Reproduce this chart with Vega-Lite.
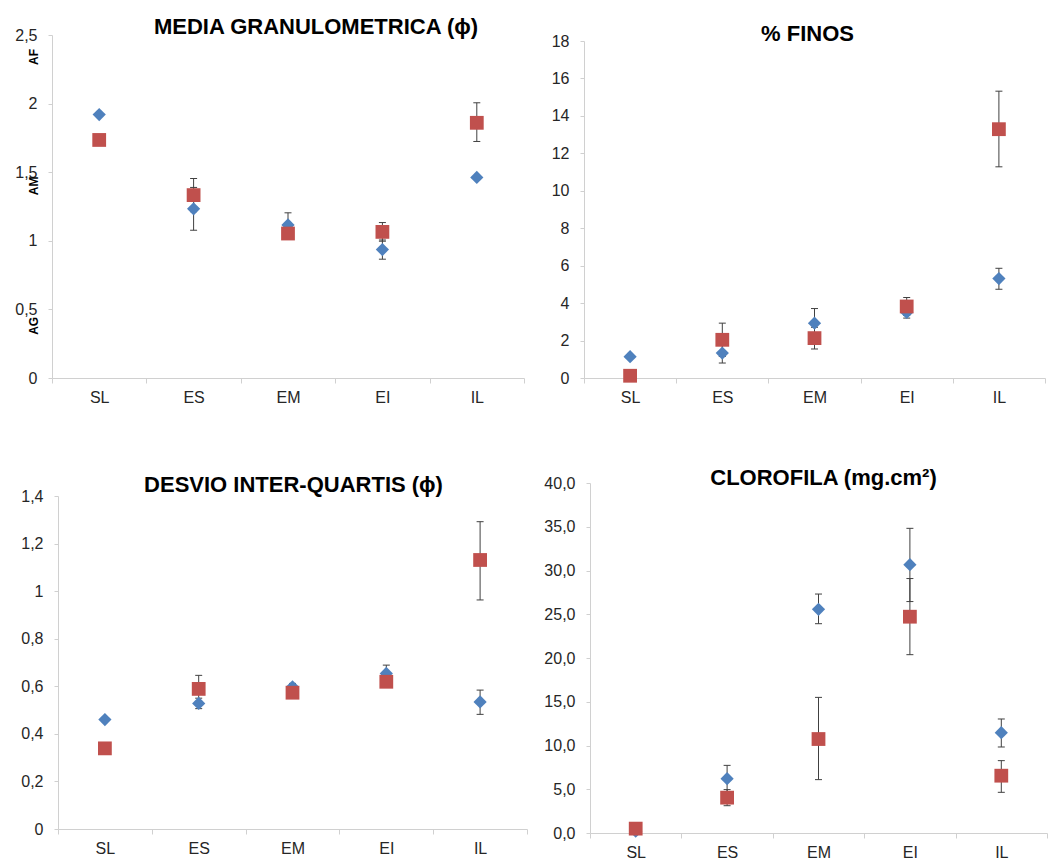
{
  "$schema": "https://vega.github.io/schema/vega-lite/v6.json",
  "background": "white",
  "padding": {"left": 14, "top": 16, "right": 2, "bottom": 0},
  "config": {
    "font": "Liberation Sans",
    "view": {"stroke": null},
    "axis": {"labelFont": "Liberation Sans", "labelFontSize": 16, "labelColor": "#262626", "domainColor": "#D0D0D0", "tickColor": "#D0D0D0", "grid": false, "labelOverlap": false},
    "axisY": {"tickSize": 4, "labelPadding": 11},
    "axisX": {"tickSize": 5, "labelPadding": 6, "labelAngle": 0, "tickBand": "extent"},
    "title": {"font": "Liberation Sans", "fontSize": 22, "fontWeight": "bold", "color": "#000000", "frame": "group", "offset": 0, "baseline": "alphabetic", "anchor": "middle"}
  },
  "datasets": {
    "media": [
      {"site": "SL", "series": "A", "value": 1.92, "lo": 1.92, "hi": 1.92},
      {"site": "SL", "series": "B", "value": 1.735, "lo": 1.735, "hi": 1.735},
      {"site": "ES", "series": "A", "value": 1.233, "lo": 1.077, "hi": 1.389},
      {"site": "ES", "series": "B", "value": 1.333, "lo": 1.212, "hi": 1.454},
      {"site": "EM", "series": "A", "value": 1.116, "lo": 1.028, "hi": 1.204},
      {"site": "EM", "series": "B", "value": 1.053, "lo": 1.02, "hi": 1.086},
      {"site": "EI", "series": "A", "value": 0.936, "lo": 0.866, "hi": 1.006},
      {"site": "EI", "series": "B", "value": 1.065, "lo": 0.997, "hi": 1.133},
      {"site": "IL", "series": "A", "value": 1.462, "lo": 1.45, "hi": 1.474},
      {"site": "IL", "series": "B", "value": 1.86, "lo": 1.724, "hi": 2.006}
    ],
    "mediaLabels": [
      {"site": "SL", "label": "AF", "v": 2.34},
      {"site": "SL", "label": "AM", "v": 1.4},
      {"site": "SL", "label": "AG", "v": 0.38}
    ],
    "finos": [
      {"site": "SL", "series": "A", "value": 1.14, "lo": 1.1, "hi": 1.18},
      {"site": "SL", "series": "B", "value": 0.12, "lo": 0.08, "hi": 0.16},
      {"site": "ES", "series": "A", "value": 1.33, "lo": 0.8, "hi": 1.86},
      {"site": "ES", "series": "B", "value": 2.04, "lo": 1.15, "hi": 2.93},
      {"site": "EM", "series": "A", "value": 2.93, "lo": 2.15, "hi": 3.71},
      {"site": "EM", "series": "B", "value": 2.13, "lo": 1.55, "hi": 2.71},
      {"site": "EI", "series": "A", "value": 3.5, "lo": 3.2, "hi": 3.8},
      {"site": "EI", "series": "B", "value": 3.82, "lo": 3.34, "hi": 4.3},
      {"site": "IL", "series": "A", "value": 5.31, "lo": 4.74, "hi": 5.86},
      {"site": "IL", "series": "B", "value": 13.29, "lo": 11.28, "hi": 15.32}
    ],
    "desvio": [
      {"site": "SL", "series": "A", "value": 0.46, "lo": 0.455, "hi": 0.465},
      {"site": "SL", "series": "B", "value": 0.339, "lo": 0.334, "hi": 0.344},
      {"site": "ES", "series": "A", "value": 0.528, "lo": 0.506, "hi": 0.55},
      {"site": "ES", "series": "B", "value": 0.589, "lo": 0.532, "hi": 0.646},
      {"site": "EM", "series": "A", "value": 0.598, "lo": 0.585, "hi": 0.612},
      {"site": "EM", "series": "B", "value": 0.573, "lo": 0.565, "hi": 0.581},
      {"site": "EI", "series": "A", "value": 0.654, "lo": 0.619, "hi": 0.689},
      {"site": "EI", "series": "B", "value": 0.619, "lo": 0.61, "hi": 0.628},
      {"site": "IL", "series": "A", "value": 0.534, "lo": 0.482, "hi": 0.584},
      {"site": "IL", "series": "B", "value": 1.131, "lo": 0.963, "hi": 1.292}
    ],
    "clorofila": [
      {"site": "SL", "series": "A", "value": 0.2, "lo": 0.1, "hi": 0.3},
      {"site": "SL", "series": "B", "value": 0.5, "lo": 0.3, "hi": 0.7},
      {"site": "ES", "series": "A", "value": 6.21, "lo": 4.69, "hi": 7.73},
      {"site": "ES", "series": "B", "value": 4.04, "lo": 3.12, "hi": 4.96},
      {"site": "EM", "series": "A", "value": 25.56, "lo": 23.92, "hi": 27.31},
      {"site": "EM", "series": "B", "value": 10.74, "lo": 6.1, "hi": 15.5},
      {"site": "EI", "series": "A", "value": 30.67, "lo": 26.45, "hi": 34.82},
      {"site": "EI", "series": "B", "value": 24.72, "lo": 20.38, "hi": 29.08},
      {"site": "IL", "series": "A", "value": 11.47, "lo": 9.83, "hi": 13.03},
      {"site": "IL", "series": "B", "value": 6.55, "lo": 4.65, "hi": 8.27}
    ]
  },
  "columns": 2,
  "bounds": "flush",
  "spacing": {"row": 105, "column": 57},
  "concat": [
    {
      "width": 472, "height": 343,
      "title": {"text": "MEDIA GRANULOMETRICA (ϕ)", "dx": 28, "dy": 16},
      "data": {"name": "media"},
      "encoding": {"x": {"field": "site", "type": "nominal", "sort": ["SL", "ES", "EM", "EI", "IL"], "title": null, "scale": {"type": "band", "paddingInner": 0, "paddingOuter": 0}}},
      "layer": [
        {"mark": {"type": "rule", "color": "#404040", "strokeWidth": 1},
         "encoding": {"y": {"field": "lo", "type": "quantitative", "title": null, "scale": {"domain": [0, 2.5], "nice": false, "zero": true},
           "axis": {"values": [0, 0.5, 1, 1.5, 2, 2.5], "labelExpr": "replace(format(datum.value, '~g'), '.', ',')"}},
           "y2": {"field": "hi"}}},
        {"mark": {"type": "tick", "color": "#404040", "thickness": 1, "size": 7, "opacity": 1},
         "encoding": {"y": {"field": "lo", "type": "quantitative", "title": null}}},
        {"mark": {"type": "tick", "color": "#404040", "thickness": 1, "size": 7, "opacity": 1},
         "encoding": {"y": {"field": "hi", "type": "quantitative", "title": null}}},
        {"transform": [{"filter": "datum.series == 'A'"}],
         "mark": {"type": "point", "shape": "diamond", "filled": true, "color": "#4F81BD", "size": 175, "opacity": 1},
         "encoding": {"y": {"field": "value", "type": "quantitative", "title": null}}},
        {"transform": [{"filter": "datum.series == 'B'"}],
         "mark": {"type": "point", "shape": "square", "filled": true, "color": "#C0504D", "size": 190, "opacity": 1},
         "encoding": {"y": {"field": "value", "type": "quantitative", "title": null}}},
        {"data": {"name": "mediaLabels"},
         "mark": {"type": "text", "angle": 270, "fontSize": 12, "fontWeight": "bold", "color": "#000000", "xOffset": -65, "align": "center", "baseline": "middle"},
         "encoding": {"y": {"field": "v", "type": "quantitative", "title": null}, "text": {"field": "label"}}}
      ]
    },
    {
      "width": 461, "height": 343,
      "title": {"text": "% FINOS", "dx": -7, "dy": 17},
      "data": {"name": "finos"},
      "encoding": {"x": {"field": "site", "type": "nominal", "sort": ["SL", "ES", "EM", "EI", "IL"], "title": null, "scale": {"type": "band", "paddingInner": 0, "paddingOuter": 0}}},
      "layer": [
        {"mark": {"type": "rule", "color": "#404040", "strokeWidth": 1},
         "encoding": {"y": {"field": "lo", "type": "quantitative", "title": null, "scale": {"domain": [0, 18], "nice": false, "zero": true, "range": [343, 6]},
           "axis": {"values": [0, 2, 4, 6, 8, 10, 12, 14, 16, 18], "tickCount": 10, "labelOverlap": false, "labelExpr": "format(datum.value, 'd')"}},
           "y2": {"field": "hi"}}},
        {"mark": {"type": "tick", "color": "#404040", "thickness": 1, "size": 7, "opacity": 1},
         "encoding": {"y": {"field": "lo", "type": "quantitative", "title": null}}},
        {"mark": {"type": "tick", "color": "#404040", "thickness": 1, "size": 7, "opacity": 1},
         "encoding": {"y": {"field": "hi", "type": "quantitative", "title": null}}},
        {"transform": [{"filter": "datum.series == 'A'"}],
         "mark": {"type": "point", "shape": "diamond", "filled": true, "color": "#4F81BD", "size": 175, "opacity": 1},
         "encoding": {"y": {"field": "value", "type": "quantitative", "title": null}}},
        {"transform": [{"filter": "datum.series == 'B'"}],
         "mark": {"type": "point", "shape": "square", "filled": true, "color": "#C0504D", "size": 190, "opacity": 1},
         "encoding": {"y": {"field": "value", "type": "quantitative", "title": null}}}
      ]
    },
    {
      "width": 475, "height": 346,
      "title": {"text": "DESVIO INTER-QUARTIS (ϕ)", "dx": 4, "dy": 18},
      "data": {"name": "desvio"},
      "encoding": {"x": {"field": "site", "type": "nominal", "sort": ["SL", "ES", "EM", "EI", "IL"], "title": null, "scale": {"type": "band", "paddingInner": 0, "paddingOuter": 0, "range": [6, 475]}}},
      "layer": [
        {"mark": {"type": "rule", "color": "#404040", "strokeWidth": 1},
         "encoding": {"y": {"field": "lo", "type": "quantitative", "title": null, "scale": {"domain": [0, 1.4], "nice": false, "zero": true, "range": [346, 13]},
           "axis": {"values": [0, 0.2, 0.4, 0.6, 0.8, 1, 1.2, 1.4], "offset": -6, "labelExpr": "replace(format(datum.value, '~g'), '.', ',')"}},
           "y2": {"field": "hi"}}},
        {"mark": {"type": "tick", "color": "#404040", "thickness": 1, "size": 7, "opacity": 1},
         "encoding": {"y": {"field": "lo", "type": "quantitative", "title": null}}},
        {"mark": {"type": "tick", "color": "#404040", "thickness": 1, "size": 7, "opacity": 1},
         "encoding": {"y": {"field": "hi", "type": "quantitative", "title": null}}},
        {"transform": [{"filter": "datum.series == 'A'"}],
         "mark": {"type": "point", "shape": "diamond", "filled": true, "color": "#4F81BD", "size": 175, "opacity": 1},
         "encoding": {"y": {"field": "value", "type": "quantitative", "title": null}}},
        {"transform": [{"filter": "datum.series == 'B'"}],
         "mark": {"type": "point", "shape": "square", "filled": true, "color": "#C0504D", "size": 190, "opacity": 1},
         "encoding": {"y": {"field": "value", "type": "quantitative", "title": null}}}
      ]
    },
    {
      "width": 463, "height": 350,
      "title": {"text": "CLOROFILA (mg.cm²)", "dx": 8, "dy": 19},
      "data": {"name": "clorofila"},
      "encoding": {"x": {"field": "site", "type": "nominal", "sort": ["SL", "ES", "EM", "EI", "IL"], "title": null, "scale": {"type": "band", "paddingInner": 0, "paddingOuter": 0, "range": [6, 463]}}},
      "layer": [
        {"mark": {"type": "rule", "color": "#404040", "strokeWidth": 1},
         "encoding": {"y": {"field": "lo", "type": "quantitative", "title": null, "scale": {"domain": [0, 40], "nice": false, "zero": true},
           "axis": {"values": [0, 5, 10, 15, 20, 25, 30, 35, 40], "offset": -6, "labelExpr": "replace(format(datum.value, '.1f'), '.', ',')"}},
           "y2": {"field": "hi"}}},
        {"mark": {"type": "tick", "color": "#404040", "thickness": 1, "size": 7, "opacity": 1},
         "encoding": {"y": {"field": "lo", "type": "quantitative", "title": null}}},
        {"mark": {"type": "tick", "color": "#404040", "thickness": 1, "size": 7, "opacity": 1},
         "encoding": {"y": {"field": "hi", "type": "quantitative", "title": null}}},
        {"transform": [{"filter": "datum.series == 'A'"}],
         "mark": {"type": "point", "shape": "diamond", "filled": true, "color": "#4F81BD", "size": 175, "opacity": 1},
         "encoding": {"y": {"field": "value", "type": "quantitative", "title": null}}},
        {"transform": [{"filter": "datum.series == 'B'"}],
         "mark": {"type": "point", "shape": "square", "filled": true, "color": "#C0504D", "size": 190, "opacity": 1},
         "encoding": {"y": {"field": "value", "type": "quantitative", "title": null}}}
      ]
    }
  ]
}
